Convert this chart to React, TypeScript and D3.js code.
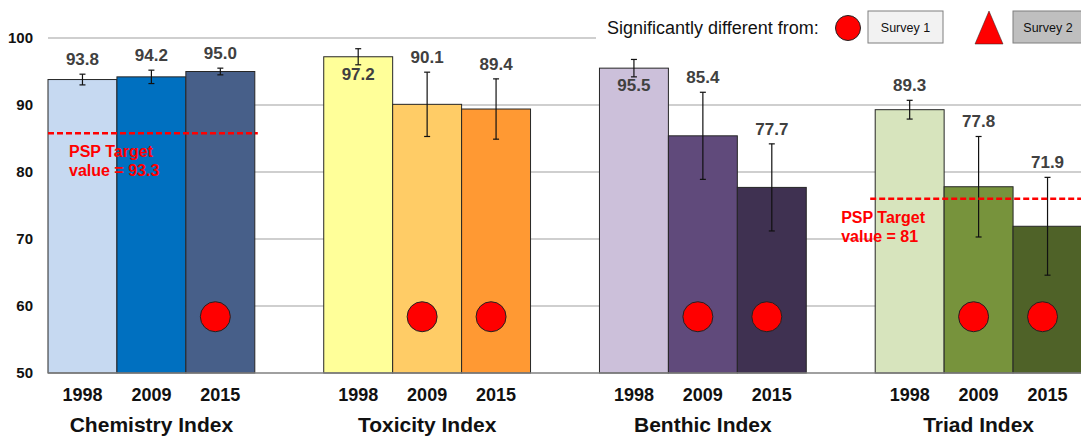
import React from 'react';
import * as d3 from 'd3';

const groups = ['Chemistry Index', 'Toxicity Index', 'Benthic Index', 'Triad Index'];
const years = ['1998', '2009', '2015'];

const values = [
  [93.8, 94.2, 95.0],
  [97.2, 90.1, 89.4],
  [95.5, 85.4, 77.7],
  [89.3, 77.8, 71.9],
];
const errors = [
  [0.8, 1.0, 0.5],
  [1.2, 4.8, 4.5],
  [1.3, 6.5, 6.5],
  [1.4, 7.5, 7.3],
];
// significantly different from survey 1
const sigSurvey1 = [
  [false, false, true],
  [false, true, true],
  [false, true, true],
  [false, true, true],
];
const colors = [
  ['#c6d9f1', '#0070c0', '#475f89'],
  ['#ffff99', '#ffcc66', '#ff9933'],
  ['#ccc0da', '#604a7b', '#3f3151'],
  ['#d7e4bd', '#77933c', '#4f6228'],
];
// PSP targets: [group index, drawn line value, label]
const targets: [number, number, string][] = [
  [0, 85.8, 'value = 93.3'],
  [3, 76.0, 'value = 81'],
];
const yTicks = [50, 60, 70, 80, 90, 100];

const W = 1081;
const H = 438;
const font = '"Liberation Sans", Arial, sans-serif';

export default function App() {
  const x = d3.scaleBand<string>().domain(groups).range([48, 1082]).paddingInner(0.25).paddingOuter(0);
  const xi = d3.scaleBand<string>().domain(years).range([0, x.bandwidth()]);
  const y = d3.scaleLinear().domain([50, 100]).range([373, 38]);
  const markY = 58.4;

  return (
    <svg width={W} height={H} style={{ position: 'absolute', left: 0, top: 0, fontFamily: font }}>
      <rect width={W} height={H} fill="#fff" />
      {yTicks.slice(1).map((t) => (
        <line key={t} x1={48} x2={W} y1={y(t)} y2={y(t)} stroke="#bfbfbf" strokeWidth={1.3} />
      ))}
      {yTicks.map((t) => (
        <text key={t} x={33} y={y(t) + 5} textAnchor="end" fontSize={15} fontWeight="bold" fill="#111">
          {t}
        </text>
      ))}

      {groups.map((g, gi) => (
        <g key={g} transform={`translate(${x(g)},0)`}>
          {years.map((yr, i) => {
            const v = values[gi][i];
            const e = errors[gi][i];
            const bx = xi(yr)!;
            const cx = bx + xi.bandwidth() / 2;
            const inside = v + e > 96;
            const ly = inside ? y(v) + 23 : y(v + e) - 9;
            return (
              <g key={yr}>
                <rect x={bx} y={y(v)} width={xi.bandwidth()} height={y(50) - y(v)} fill={colors[gi][i]} stroke="#262626" strokeWidth={1} />
                <line x1={cx} x2={cx} y1={y(v + e)} y2={y(v - e)} stroke="#111" strokeWidth={1.2} />
                <line x1={cx - 3} x2={cx + 3} y1={y(v + e)} y2={y(v + e)} stroke="#111" strokeWidth={1.2} />
                <line x1={cx - 3} x2={cx + 3} y1={y(v - e)} y2={y(v - e)} stroke="#111" strokeWidth={1.2} />
                <text x={cx} y={ly} textAnchor="middle" fontSize={17} fontWeight="bold" fill="#404040">
                  {v.toFixed(1)}
                </text>
                {sigSurvey1[gi][i] && (
                  <circle cx={cx - 5} cy={y(markY)} r={15} fill="#ff0000" stroke="#222" strokeWidth={1} />
                )}
                <text x={cx} y={401} textAnchor="middle" fontSize={18} fontWeight="bold" fill="#111">
                  {yr}
                </text>
              </g>
            );
          })}
          <text x={x.bandwidth() / 2} y={432} textAnchor="middle" fontSize={21} fontWeight="bold" fill="#111">
            {g}
          </text>
        </g>
      ))}

      <line x1={48} x2={W} y1={y(50)} y2={y(50)} stroke="#808080" strokeWidth={1.5} />

      {targets.map(([gi, v, label]) => {
        const x0 = x(groups[gi])!;
        const lx = gi === 0 ? x0 + 21 : x0 - 34;
        return (
          <g key={gi}>
            <line x1={gi === 0 ? x0 : x0 - 5} x2={x0 + x.bandwidth() + 3} y1={y(v)} y2={y(v)} stroke="#ff0000" strokeWidth={2.5} strokeDasharray="6,3" />
            <text x={lx} y={y(v) + 24} fontSize={16} fontWeight="bold" fill="#ff0000">
              PSP Target
            </text>
            <text x={lx} y={y(v) + 43} fontSize={16} fontWeight="bold" fill="#ff0000">
              {label}
            </text>
          </g>
        );
      })}

      <g>
        <rect x={596} y={0} width={W - 596} height={50} fill="#fff" />
        <text x={607} y={34} fontSize={18} fill="#111">
          Significantly different from:
        </text>
        <circle cx={848} cy={28} r={12.5} fill="#ff0000" stroke="#222" strokeWidth={1} />
        <rect x={868} y={11} width={75} height={32} fill="#f2f2f2" stroke="#7f7f7f" strokeWidth={1} />
        <text x={905.5} y={32} textAnchor="middle" fontSize={12.5} fill="#111">
          Survey 1
        </text>
        <path d="M989,11 L1003,44 L975,44 Z" fill="#ff0000" stroke="#222" strokeWidth={0.5} />
        <rect x={1013} y={11} width={75} height={32} fill="#bfbfbf" stroke="#7f7f7f" strokeWidth={1} />
        <text x={1048} y={32} textAnchor="middle" fontSize={12.5} fill="#111">
          Survey 2
        </text>
      </g>
    </svg>
  );
}
